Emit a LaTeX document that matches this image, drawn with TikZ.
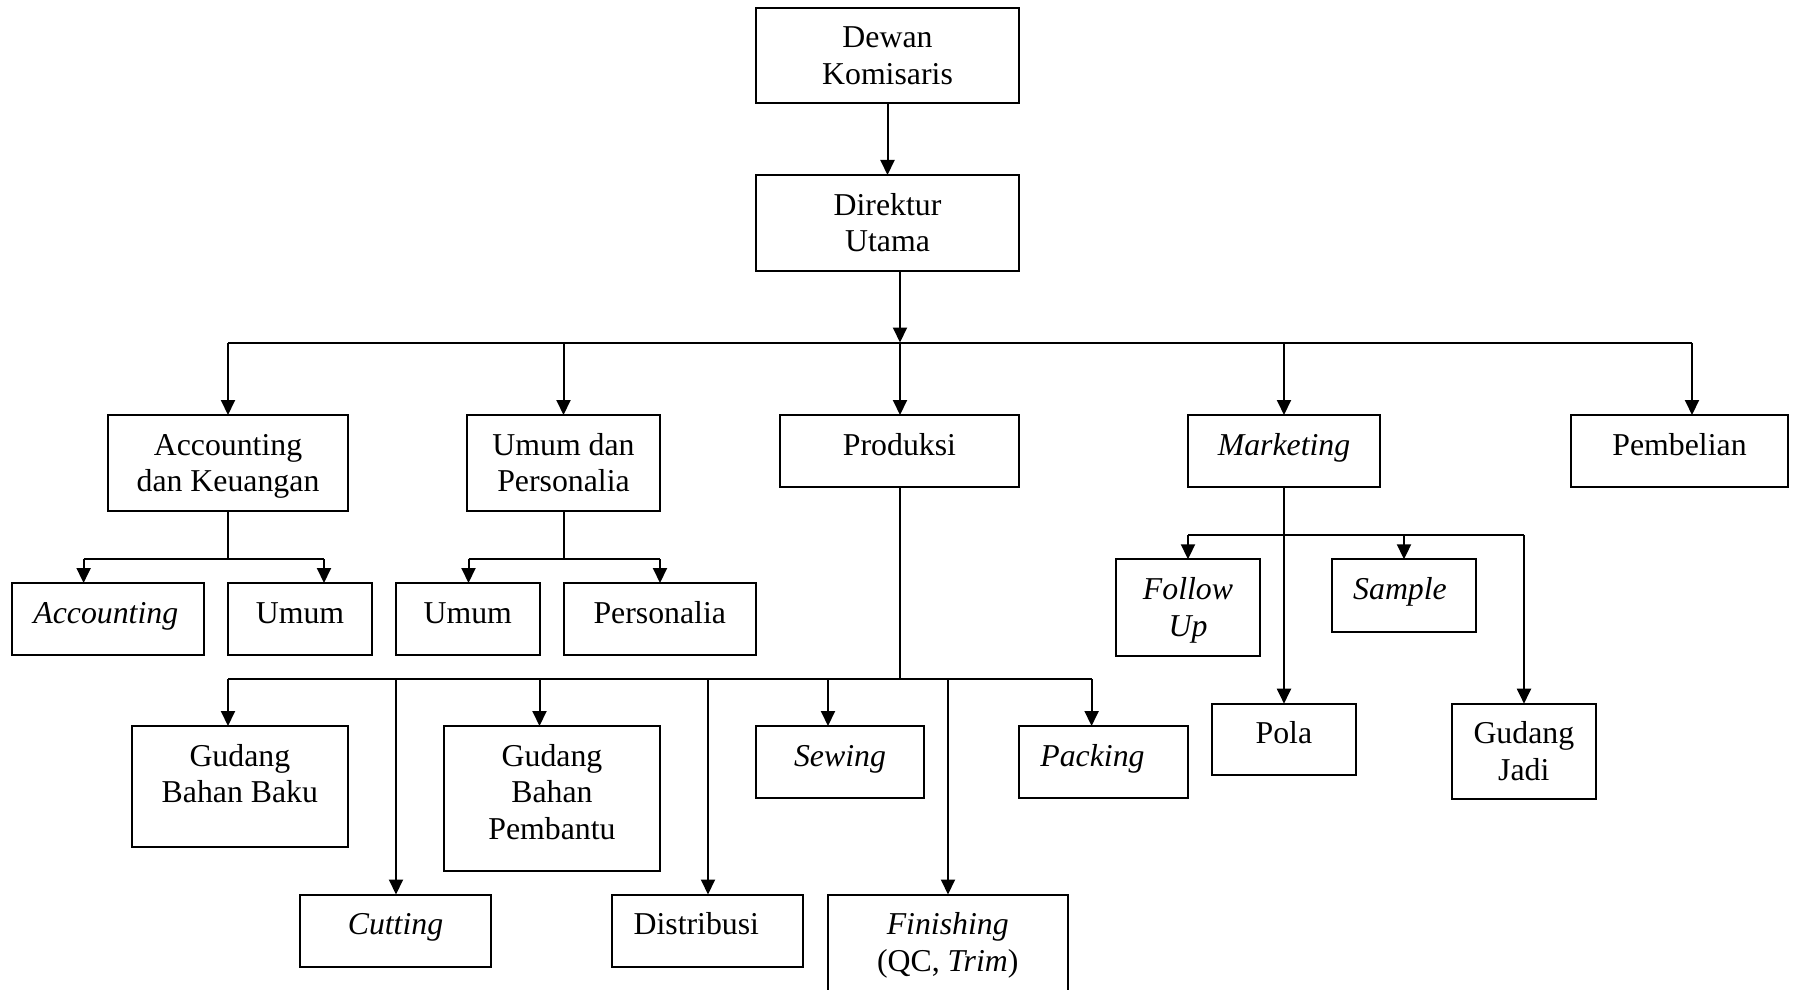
\documentclass[tikz,border=0pt]{standalone}
\usepackage{fontspec}
\setmainfont{Liberation Serif}
\usetikzlibrary{arrows.meta}
\tikzset{
  box/.style={draw, line width=1pt, inner sep=0pt, outer sep=0pt, anchor=north west},
  lbl/.style={anchor=base, inner sep=0pt, font=\fontsize{15.9pt}{18.4pt}\selectfont},
  conn/.style={line width=1pt},
  arr/.style={line width=1pt, -{Triangle[length=7.5pt,width=7pt]}}
}
\newcommand\obox[7][0]{%
  \node[box, minimum width={(#5-#3)*0.5pt}, minimum height={(#6-#4)*0.5pt}] (#2) at (#3,#4) {};
  \node[lbl] (#2-t) at ({(#3+#5)/2+#1},{#4+40}) {\begin{tabular}[t]{@{}c@{}}#7\end{tabular}};
}
\begin{document}
\begin{tikzpicture}[x=0.5pt,y=-0.5pt]
\clip (0,0) rectangle (1796,990);
\fill[white] (0,0) rectangle (1796,990);
% boxes
\obox{dewan}{756}{8}{1019}{103}{Dewan\\Komisaris}
\obox{dir}{756}{175}{1019}{271}{Direktur\\Utama}
\obox{acc}{108}{415}{348}{511}{Accounting\\dan Keuangan}
\obox{ump}{467}{415}{660}{511}{Umum dan\\Personalia}
\obox{prod}{780}{415}{1019}{487}{Produksi}
\obox{mkt}{1188}{415}{1380}{487}{\textit{Marketing}}
\obox{pem}{1571}{415}{1788}{487}{Pembelian}
\obox[-2]{acc2}{11.5}{583}{204}{655}{\textit{Accounting}}
\obox{um1}{228}{583}{372}{655}{Umum}
\obox{um2}{396}{583}{539.5}{655}{Umum}
\obox{pers}{563.5}{583}{756}{655}{Personalia}
\obox{gbb}{131.7}{726}{348}{846.5}{Gudang\\Bahan Baku}
\obox{cut}{300}{894.5}{491}{967}{\textit{Cutting}}
\obox{gbp}{444}{726}{660}{870.5}{Gudang\\Bahan\\Pembantu}
\obox[-11]{dist}{611.6}{894.5}{803}{967}{Distribusi}
\obox{sew}{756}{726}{924}{798}{\textit{Sewing}}
\obox{fin}{828}{894.5}{1067.5}{1010}{\textit{Finishing}\\(QC, \textit{Trim})}
\obox[-11]{pack}{1019}{726}{1188}{798}{\textit{Packing}}
\obox{fol}{1115.7}{559.3}{1260.3}{655.7}{\textit{Follow}\\\textit{Up}}
\obox[-4]{sam}{1331.7}{559.3}{1476.3}{631.7}{\textit{Sample}}
\obox{pola}{1211.7}{703.7}{1356}{775}{Pola}
\obox{gj}{1451.7}{703.7}{1596}{799}{Gudang\\Jadi}
% top
\draw[arr] (dewan.south) -- (dir.north);
\coordinate (j1) at (900,342.5);
\coordinate (j1a) at (228,342.5);
\coordinate (j1b) at (563.5,342.5);
\coordinate (j1d) at (1284,342.5);
\coordinate (j1e) at (1692,342.5);
\draw[arr] (dir.south -| j1) -- (j1);
\draw[conn] (j1a) -- (j1e);
\draw[arr] (j1a) -- (acc.north -| j1a);
\draw[arr] (j1b) -- (ump.north -| j1b);
\draw[arr] (j1) -- (prod.north -| j1);
\draw[arr] (j1d) -- (mkt.north -| j1d);
\draw[arr] (j1e) -- (pem.north -| j1e);
% accounting
\coordinate (j2) at (228,559);
\coordinate (j2a) at (83.6,559);
\coordinate (j2b) at (324,559);
\draw[conn] (acc.south -| j2) -- (j2);
\draw[conn] (j2a) -- (j2b);
\draw[arr] (j2a) -- (acc2.north -| j2a);
\draw[arr] (j2b) -- (um1.north -| j2b);
% umum dan personalia
\coordinate (j3) at (563.5,559);
\coordinate (j3a) at (468.5,559);
\coordinate (j3b) at (660,559);
\draw[conn] (ump.south -| j3) -- (j3);
\draw[conn] (j3a) -- (j3b);
\draw[arr] (j3a) -- (um2.north -| j3a);
\draw[arr] (j3b) -- (pers.north -| j3b);
% produksi
\coordinate (j4) at (900,679);
\coordinate (j4a) at (228,679);
\coordinate (j4b) at (396,679);
\coordinate (j4c) at (539.5,679);
\coordinate (j4d) at (708,679);
\coordinate (j4e) at (828,679);
\coordinate (j4f) at (948,679);
\coordinate (j4g) at (1091.6,679);
\draw[conn] (prod.south -| j4) -- (j4);
\draw[conn] (j4a) -- (j4g);
\draw[arr] (j4a) -- (gbb.north -| j4a);
\draw[arr] (j4b) -- (cut.north -| j4b);
\draw[arr] (j4c) -- (gbp.north -| j4c);
\draw[arr] (j4d) -- (dist.north -| j4d);
\draw[arr] (j4e) -- (sew.north -| j4e);
\draw[arr] (j4f) -- (fin.north -| j4f);
\draw[arr] (j4g) -- (pack.north -| j4g);
% marketing
\coordinate (j5a) at (1188,535);
\coordinate (j5b) at (1404,535);
\coordinate (j5c) at (1524,535);
\draw[arr] (mkt.south) -- (pola.north -| mkt.south);
\draw[conn] (j5a) -- (j5c);
\draw[arr] (j5a) -- (fol.north -| j5a);
\draw[arr] (j5b) -- (sam.north -| j5b);
\draw[arr] (j5c) -- (gj.north -| j5c);
\end{tikzpicture}
\end{document}
